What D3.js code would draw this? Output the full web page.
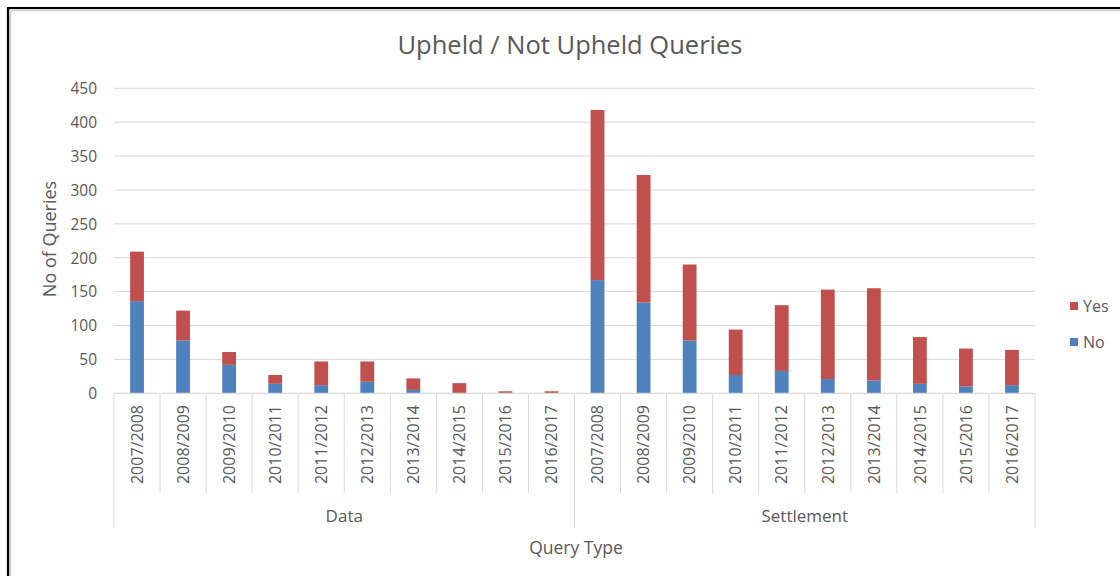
<!DOCTYPE html>
<html>
<head>
<meta charset="utf-8">
<script src="https://cdn.jsdelivr.net/npm/d3@7"></script>
<style>
  body { margin: 0; background: #fff; }
  svg { display: block; }
  text { font-family: "Open Sans", "Noto Sans", sans-serif; fill: #595959; }
</style>
</head>
<body>
<svg id="chart" width="1120" height="576"></svg>
<script>
const groups = ["Data", "Settlement"];
const years = ["2007/2008","2008/2009","2009/2010","2010/2011","2011/2012","2012/2013","2013/2014","2014/2015","2015/2016","2016/2017"];
const dataNo  = [136, 78, 42, 14, 12, 17, 5, 0, 0, 0];
const dataYes = [73, 44, 19, 13, 35, 30, 17, 15, 3, 3];
const settlementNo  = [167, 134, 78, 27, 33, 21, 19, 14, 10, 12];
const settlementYes = [251, 188, 112, 67, 97, 132, 136, 69, 56, 52];
const seriesNames = ["No", "Yes"];
const yTicks = [0, 50, 100, 150, 200, 250, 300, 350, 400, 450];
const colors = { No: "#4f81bd", Yes: "#c0504d" };

const rows = [];
groups.forEach((g, gi) => {
  const no = gi === 0 ? dataNo : settlementNo;
  const yes = gi === 0 ? dataYes : settlementYes;
  years.forEach((yr, i) => rows.push({ key: g + "|" + yr, group: g, year: yr, No: no[i], Yes: yes[i] }));
});

const svg = d3.select("#chart");
const plotLeft = 114, plotRight = 1035, plotTop = 88.3, plotBottom = 393.3;

// frame lines
svg.append("line").attr("x1", 7).attr("x2", 1120).attr("y1", 10.2).attr("y2", 10.2).attr("stroke", "#d0d0d0").attr("stroke-width", 2);
svg.append("line").attr("x1", 10.2).attr("x2", 10.2).attr("y1", 7).attr("y2", 576).attr("stroke", "#d0d0d0").attr("stroke-width", 2);
svg.append("line").attr("x1", 7).attr("x2", 1120).attr("y1", 8).attr("y2", 8).attr("stroke", "#000").attr("stroke-width", 2.2);
svg.append("line").attr("x1", 8).attr("x2", 8).attr("y1", 7).attr("y2", 576).attr("stroke", "#000").attr("stroke-width", 2.2);

const x = d3.scaleBand().domain(rows.map(d => d.key)).range([plotLeft, plotRight]).padding(0);
const y = d3.scaleLinear().domain([0, 450]).range([plotBottom, plotTop]);
const step = x.step();
const barW = step * 0.3;

// gridlines
svg.append("g").selectAll("line").data(yTicks.filter(t => t > 0)).join("line")
  .attr("x1", plotLeft).attr("x2", plotRight)
  .attr("y1", d => y(d)).attr("y2", d => y(d))
  .attr("stroke", "#d9d9d9").attr("stroke-width", 1);

// y axis labels
const yAxis = d3.axisLeft(y).tickValues(yTicks).tickSize(0).tickPadding(0);
const yg = svg.append("g").attr("transform", `translate(97,0)`).call(yAxis);
yg.select(".domain").remove();
yg.selectAll("text").style("font-size", "15.5px").attr("fill", "#595959").attr("dy", "0.34em")
  .style("font-family", '"Open Sans", sans-serif');

// stacked bars
const stack = d3.stack().keys(seriesNames)(rows);
svg.append("g").selectAll("g").data(stack).join("g")
  .attr("fill", d => colors[d.key])
  .selectAll("rect").data(d => d).join("rect")
  .attr("x", d => x(d.data.key) + (step - barW) / 2)
  .attr("width", barW)
  .attr("y", d => y(d[1]))
  .attr("height", d => y(d[0]) - y(d[1]));

// baseline
svg.append("line").attr("x1", plotLeft).attr("x2", plotRight).attr("y1", plotBottom).attr("y2", plotBottom)
  .attr("stroke", "#d9d9d9").attr("stroke-width", 1.2);

// category separators
const sepY2 = 493, grpY2 = 528;
const boundaries = rows.map(d => x(d.key)).concat([plotRight]);
svg.append("g").selectAll("line").data(boundaries).join("line")
  .attr("x1", d => d).attr("x2", d => d)
  .attr("y1", plotBottom)
  .attr("y2", (d, i) => (i % years.length === 0) ? grpY2 : sepY2)
  .attr("stroke", "#d9d9d9").attr("stroke-width", 1);

// rotated year labels
svg.append("g").selectAll("text").data(rows).join("text")
  .attr("transform", d => `translate(${x(d.key) + step / 2},405) rotate(-90)`)
  .attr("text-anchor", "end")
  .attr("dy", "0.36em")
  .style("font-size", "16px")
  .text(d => d.year);

// group labels
const gx = d3.scaleBand().domain(groups).range([plotLeft, plotRight]);
svg.append("g").selectAll("text").data(groups).join("text")
  .attr("x", d => gx(d) + gx.bandwidth() / 2)
  .attr("y", 522)
  .attr("text-anchor", "middle")
  .style("font-size", "17px")
  .text(d => d);

// axis titles
svg.append("text").attr("x", 576).attr("y", 554).attr("text-anchor", "middle")
  .style("font-size", "17.5px").text("Query Type");
svg.append("text").attr("transform", "translate(50,239) rotate(-90)").attr("text-anchor", "middle")
  .attr("dy", "0.36em").style("font-size", "18px").text("No of Queries");

// title
svg.append("text").attr("x", 570).attr("y", 54).attr("text-anchor", "middle")
  .style("font-size", "25.5px").text("Upheld / Not Upheld Queries");

// legend
const legendItems = ["Yes", "No"];
const lg = svg.append("g").selectAll("g").data(legendItems).join("g")
  .attr("transform", (d, i) => `translate(1070,${306 + i * 36})`);
lg.append("rect").attr("x", 0).attr("y", -4).attr("width", 8).attr("height", 8).attr("fill", d => colors[d]);
lg.append("text").attr("x", 13).attr("dy", "0.36em").style("font-size", "16px").text(d => d);
</script>
</body>
</html>
